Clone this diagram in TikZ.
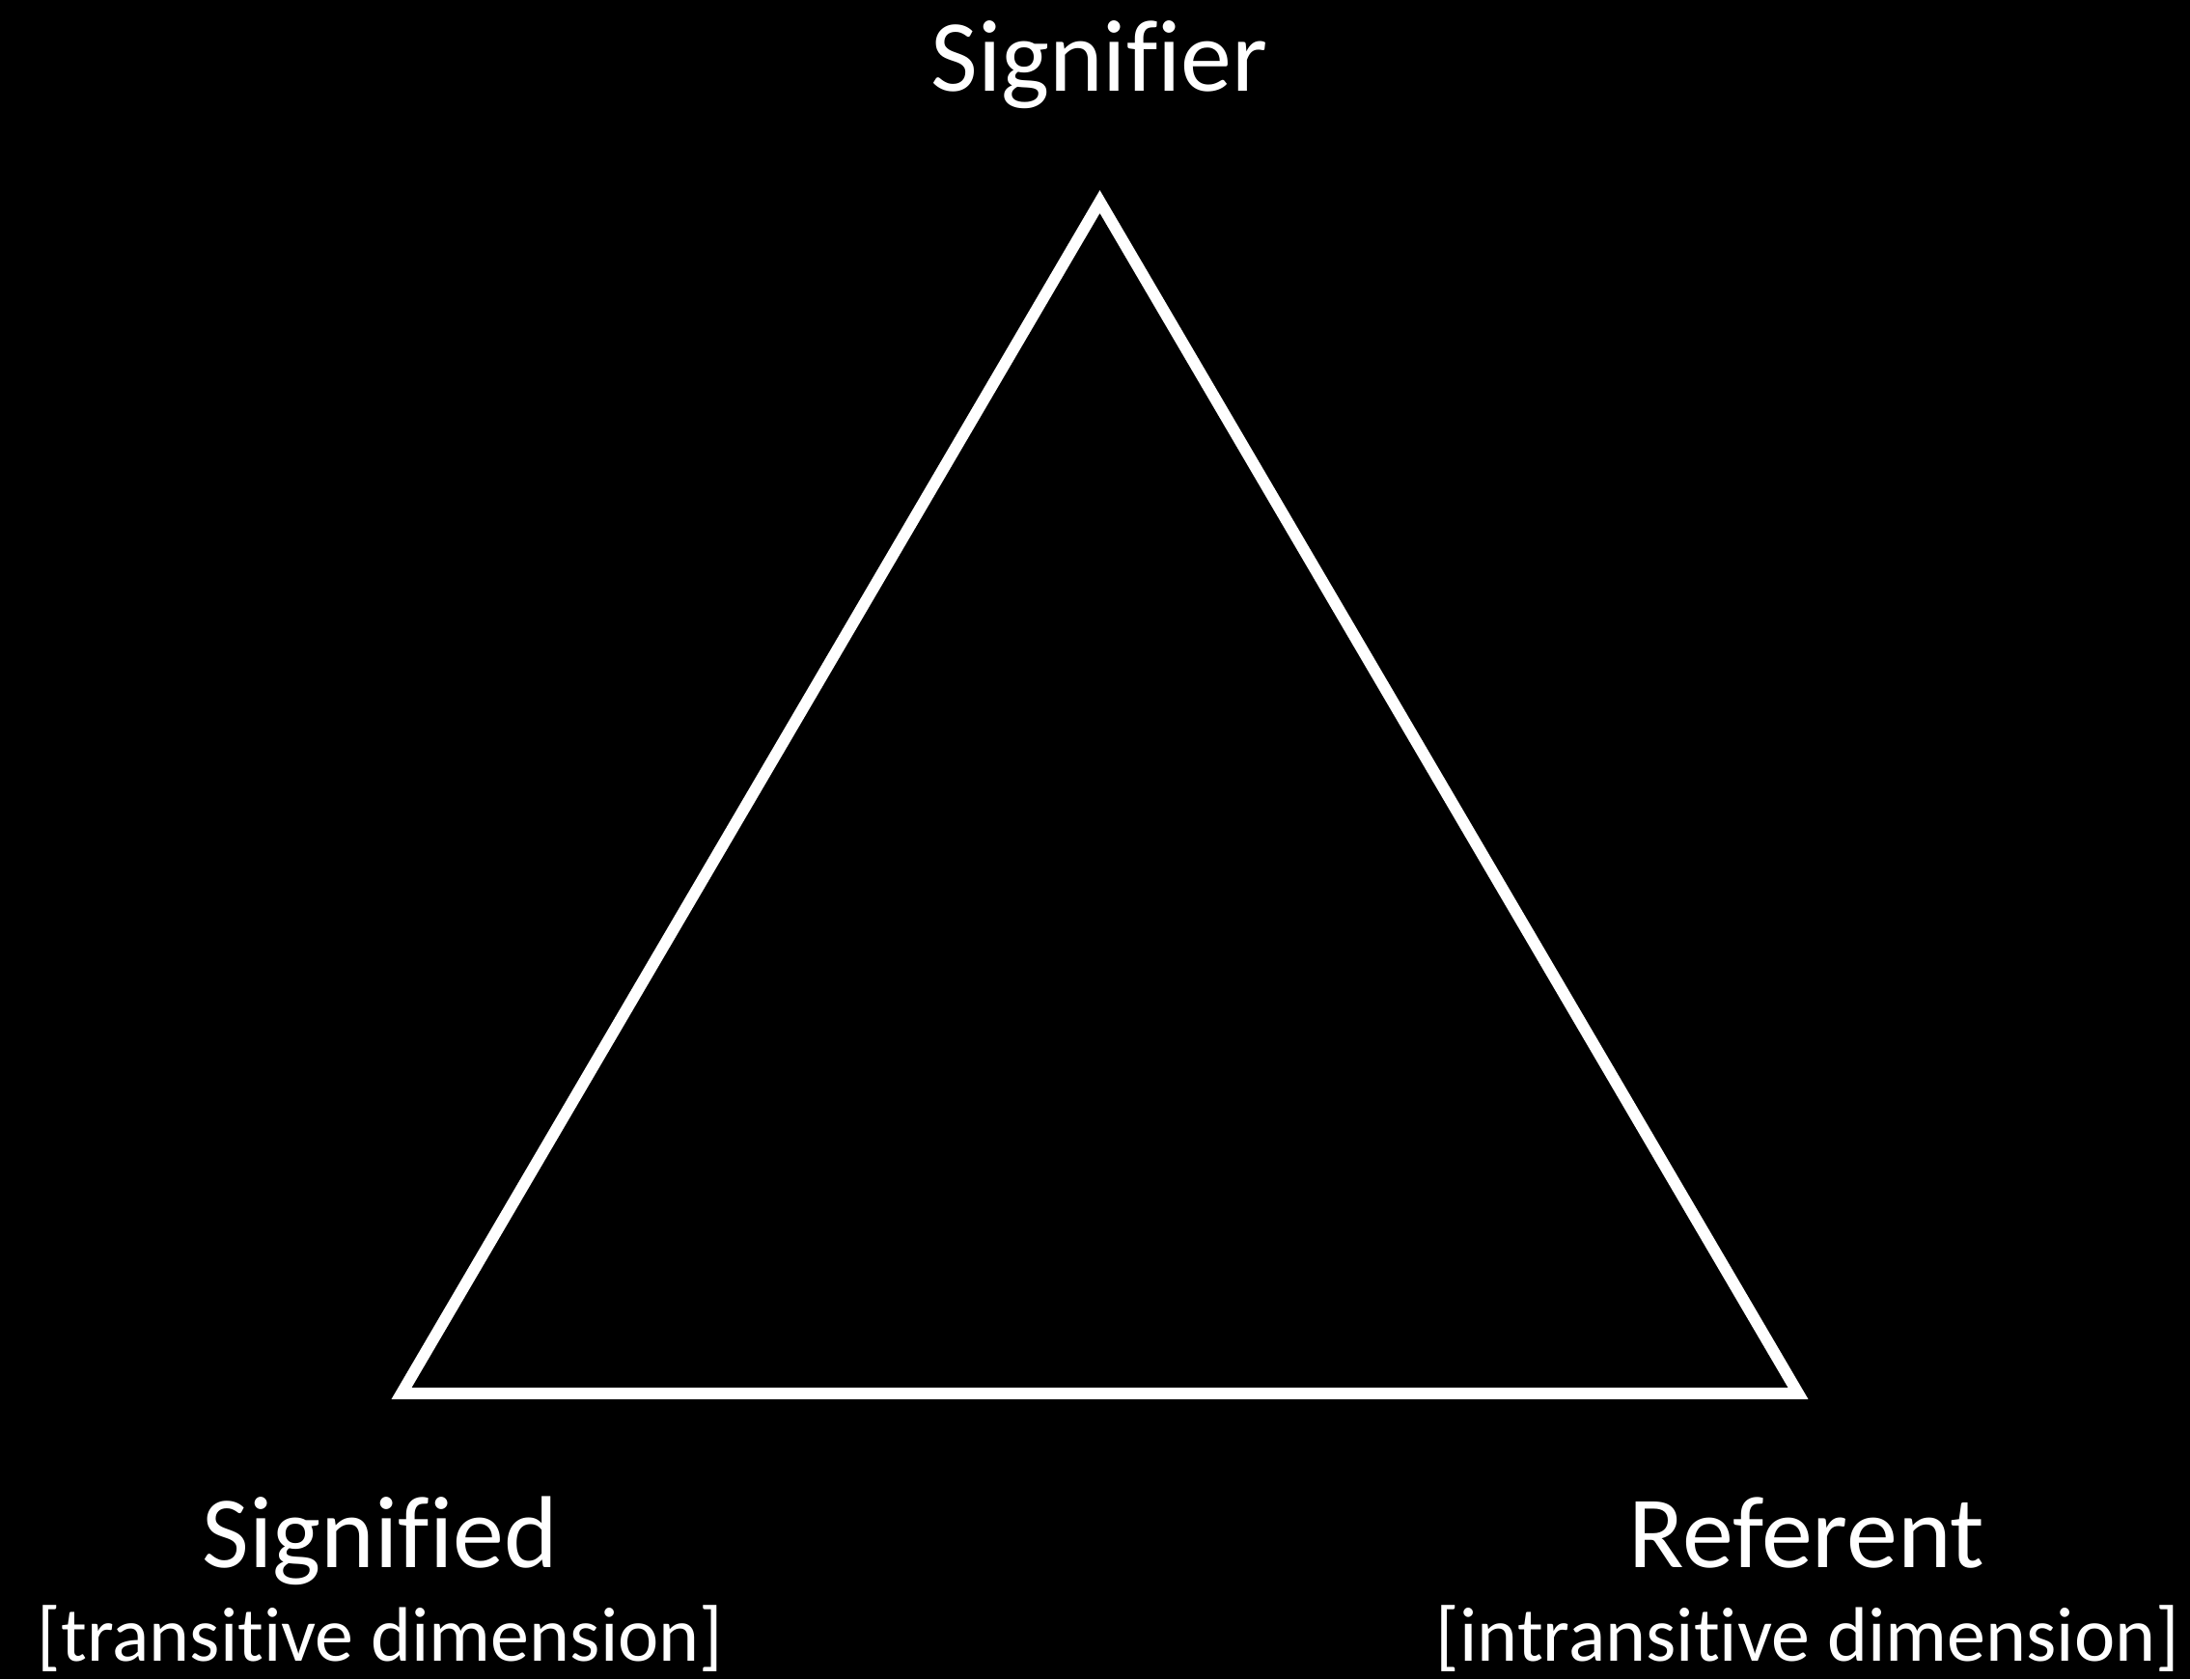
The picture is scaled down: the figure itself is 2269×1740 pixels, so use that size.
\documentclass[tikz,border=0pt]{standalone}
\usepackage{fontspec}
\setmainfont{Carlito}[Ligatures={NoCommon}]
\begin{document}
\begin{tikzpicture}[x=1pt,y=-1pt,
  lbl/.style={text=white,anchor=base,inner sep=0pt,font=\fontsize{106}{127}\selectfont},
  sublbl/.style={text=white,anchor=base,inner sep=0pt,font=\fontsize{80}{96}\selectfont},
  edge/.style={draw=white,line width=12pt,line join=miter}]
\fill[black] (0,0) rectangle (2269,1740);
\useasboundingbox (0,0) rectangle (2269,1740);
\coordinate (top) at (1139.5,209);
\coordinate (bl) at (416,1444);
\coordinate (br) at (1863,1444);
\draw[edge] (top) -- (bl) -- (br) -- cycle;
\node[lbl] (signifier) at (1139,94) {Signifier};
\node[lbl] (signified) at (394,1624) {Signified};
\node[sublbl] (trans) at (394,1721) {[transitive dimension]};
\node[lbl] (referent) at (1872,1624) {Referent};
\node[sublbl] (intrans) at (1873,1721) {[intransitive dimension]};
\end{tikzpicture}
\end{document}
